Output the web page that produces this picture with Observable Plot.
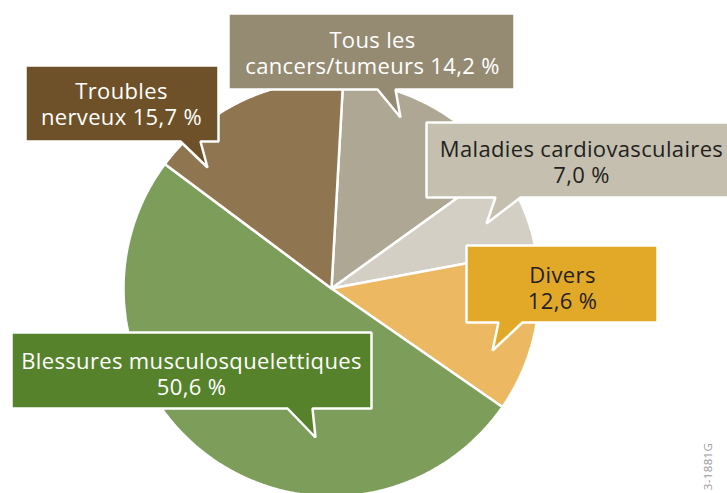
<!DOCTYPE html>
<html>
<head>
<meta charset="utf-8">
<script src="https://cdn.jsdelivr.net/npm/d3@7"></script>
<script src="https://cdn.jsdelivr.net/npm/@observablehq/plot@0.6"></script>
<style>
  html, body { margin: 0; padding: 0; background: #fff; }
  #chart svg { display: block; }
  #chart text { letter-spacing: 0.35px; }
</style>
</head>
<body>
<div id="chart"></div>
<script>
// ---- data ----
const categories = ["Tous les cancers/tumeurs", "Maladies cardiovasculaires", "Divers", "Blessures musculosquelettiques", "Troubles nerveux"];
const values = [14.2, 7.0, 12.6, 50.6, 15.7];
const labels = ["Tous les\ncancers/tumeurs 14,2 %", "Maladies cardiovasculaires\n7,0 %", "Divers\n12,6 %", "Blessures musculosquelettiques\n50,6 %", "Troubles\nnerveux 15,7 %"];
const codeLabel = "3-1881G";

// ---- styles ----
const sliceColors = ["#aea793", "#d3cfc4", "#ecb962", "#7d9e5b", "#8f7550"];
const boxColors = ["#958b73", "#c4bfaf", "#e2a928", "#56822c", "#6e5128"];
const textColors = ["#ffffff", "#231f20", "#231f20", "#ffffff", "#ffffff"];

// ---- layout (pixels) ----
const pie = {cx: 331, cy: 288, r: 208, start: 3.2};
// box: [x0, y0, x1, y1], pointer: [base x left, base x right, tip x, tip y], text: [center x, first baseline]
const boxes = [[228, 13, 514, 89], [426, 122, 740, 197], [466, 245, 657, 322], [11, 332, 371, 408], [25, 65, 218, 141]];
const pointers = [[377, 395, 400, 117], [495, 520, 486, 223], [498, 522, 492, 350], [287, 312, 315, 437], [180, 200, 207, 167]];
const textPos = [[372, 46], [581, 155], [562, 281], [191, 367], [121, 97]];
const fontSize = 22, lineGap = 26;

// ---- build slices from the data ----
const arcs = d3.pie().sort(null)
  .startAngle(pie.start * Math.PI / 180)
  .endAngle(pie.start * Math.PI / 180 + 2 * Math.PI)(values);
const slicePts = [];
arcs.forEach((a, i) => {
  slicePts.push({k: i, x: pie.cx, y: pie.cy});
  const n = Math.max(2, Math.ceil((a.endAngle - a.startAngle) / (Math.PI / 360)));
  for (let j = 0; j <= n; j++) {
    const t = a.startAngle + (a.endAngle - a.startAngle) * j / n;
    slicePts.push({k: i, x: pie.cx + pie.r * Math.sin(t), y: pie.cy - pie.r * Math.cos(t)});
  }
});

// ---- callout boxes ----
const boxPts = [];
boxes.forEach(([x0, y0, x1, y1], i) => {
  const [p0, p1, tx, ty] = pointers[i];
  [[x0, y0], [x1, y0], [x1, y1], [p1, y1], [tx, ty], [p0, y1], [x0, y1]]
    .forEach(([x, y]) => boxPts.push({k: i, x, y}));
});

// one multi-line text per label, centred between its two baselines
const textRows = labels.map((lab, i) => ({
  k: i, text: lab, x: textPos[i][0], y: textPos[i][1] + lineGap / 2 - 0.32 * fontSize
}));

const chart = Plot.plot({
  width: 727,
  height: 493,
  margin: 0,
  x: {type: "identity", axis: null},
  y: {type: "identity", axis: null},
  style: {fontFamily: "'Open Sans', sans-serif", background: "#fff"},
  marks: [
    Plot.line(slicePts, {x: "x", y: "y", z: "k", curve: "linear-closed",
      fill: d => sliceColors[d.k], stroke: "#fff", strokeWidth: 2.5, strokeLinejoin: "miter"}),
    Plot.line(boxPts, {x: "x", y: "y", z: "k", curve: "linear-closed",
      fill: d => boxColors[d.k], stroke: "#fff", strokeWidth: 2.5, strokeLinejoin: "miter"}),
    Plot.text(textRows, {x: "x", y: "y", text: "text", fill: d => textColors[d.k],
      fontSize: fontSize, lineHeight: lineGap / fontSize, textAnchor: "middle", lineAnchor: "middle"}),
    Plot.text([codeLabel], {x: 708, y: 466, text: d => d, rotate: -90, fontSize: 11.5, fill: "#9a9a9a"})
  ],
  color: {type: "identity"}
});
document.getElementById("chart").appendChild(chart);
</script>
</body>
</html>
